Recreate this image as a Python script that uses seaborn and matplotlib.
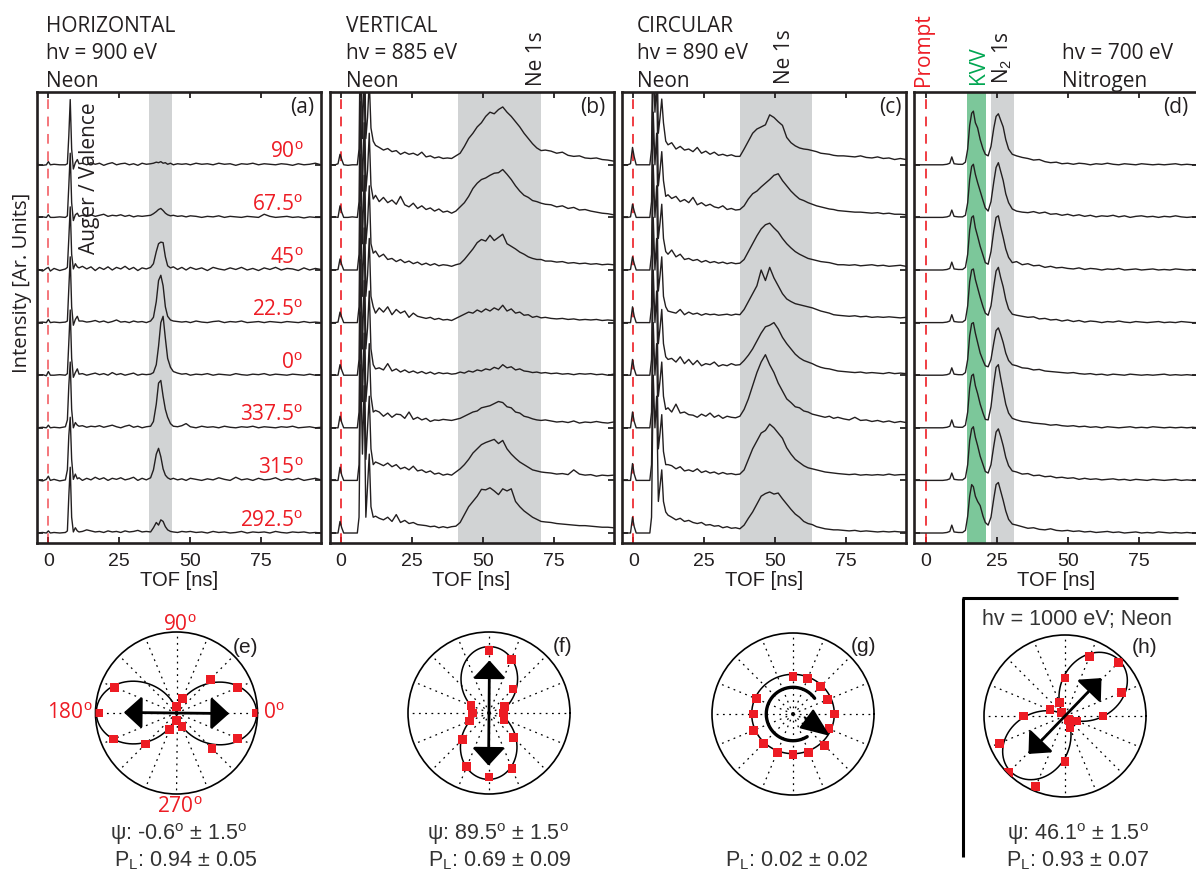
import numpy as np
import matplotlib
matplotlib.use("Agg")
import matplotlib.pyplot as plt
import seaborn as sns
from matplotlib.lines import Line2D

# ====================== DATA ======================
# ---- panel (a) HORIZONTAL: TOF grid (ns) and 8 traces (top -> bottom) ----
tof_a = [-4, -2, -0.7, 0, 0.7, 2, 4, 6,
         6.7, 7.2, 7.7, 8.2, 8.8, 9.5, 10.2, 10.8,
         12, 13.5, 15, 16.5, 18, 19.5, 21, 22.5, 24, 25.5, 27, 28.5, 30, 31.5, 33, 34.5,
         36, 37, 38, 38.8, 39.6, 40.4, 41.2, 42, 43, 44, 45.5, 47,
         48.5, 50, 52, 54, 56, 58, 60, 62, 64, 66, 68, 70, 72, 74, 76, 78, 80, 82, 84, 86, 88, 90, 92, 94, 96]
angles_a = ["90", "67.5", "45", "22.5", "0", "337.5", "315", "292.5"]
a_090 = [0.01, -0.01, 0.00, 0.06, 0.00, 0.01, 0.00, 0.00,
         0.02, 0.55, 1.24, 0.30, -0.08, 0.04, 0.10, 0.02,
         0.03, 0.00, 0.04, 0.01, 0.03, -0.01, 0.02, 0.04, 0.00, 0.02, 0.03, 0.00, 0.02, -0.01, 0.03, 0.01,
         0.02, 0.03, 0.05, 0.04, 0.06, 0.03, 0.04, 0.01, 0.03, 0.00, 0.02, 0.01,
         0.02, 0.00, 0.03, 0.01, 0.02, 0.00, 0.03, 0.01, 0.02, -0.01, 0.02, 0.01, 0.03, 0.00, 0.02, 0.01, 0.00, 0.02, 0.01, -0.01, 0.02, 0.00, 0.01, 0.03, 0.00]
a_067 = [0.00, 0.01, 0.00, 0.05, 0.00, 0.00, 0.01, 0.00,
         0.03, 0.60, 1.22, 0.28, -0.06, 0.05, 0.08, 0.02,
         0.04, 0.02, 0.05, 0.02, 0.04, 0.06, 0.02, 0.04, 0.03, 0.05, 0.02, 0.04, 0.01, 0.03, 0.02, 0.03,
         0.04, 0.07, 0.11, 0.15, 0.17, 0.13, 0.08, 0.05, 0.03, 0.04, 0.02, 0.03,
         0.01, 0.03, 0.02, 0.00, 0.02, 0.01, 0.03, 0.00, 0.02, 0.01, 0.00, 0.02, 0.01, 0.00, 0.06, 0.02, 0.00, 0.01, 0.02, 0.00, 0.01, -0.01, 0.01, 0.00, 0.00]
a_045 = [0.02, -0.02, 0.03, 0.05, -0.02, 0.03, -0.01, 0.02,
         0.05, 0.60, 1.20, 0.30, 0.02, 0.12, 0.06, 0.04,
         0.07, 0.02, 0.06, -0.01, 0.05, 0.01, 0.06, 0.00, 0.05, 0.02, 0.07, 0.01, 0.05, -0.01, 0.04, 0.02,
         0.05, 0.12, 0.35, 0.50, 0.53, 0.52, 0.25, 0.08, 0.04, 0.06, 0.01, 0.05,
         0.00, 0.05, 0.01, 0.04, -0.01, 0.05, 0.02, 0.00, 0.04, 0.01, 0.05, 0.00, 0.03, -0.01, 0.04, 0.01, 0.05, 0.00, 0.03, 0.02, -0.01, 0.04, 0.00, 0.03, 0.01]
a_022 = [0.00, 0.01, 0.00, 0.06, 0.00, 0.01, 0.00, 0.01,
         0.03, 0.65, 1.25, 0.30, -0.05, 0.06, 0.12, 0.03,
         0.03, 0.01, 0.02, 0.04, 0.01, 0.03, 0.00, 0.02, 0.05, 0.01, 0.02, 0.00, 0.03, 0.01, 0.02, 0.00,
         0.03, 0.10, 0.40, 0.80, 0.90, 0.70, 0.30, 0.12, 0.05, 0.03, 0.02, 0.01,
         0.02, 0.00, 0.03, 0.01, 0.00, 0.02, 0.03, 0.00, 0.02, 0.01, 0.03, 0.00, 0.01, 0.02, 0.00, 0.02, 0.01, 0.00, 0.02, 0.01, 0.00, 0.02, 0.00, 0.01, 0.00]
a_000 = [0.00, 0.01, -0.01, 0.07, 0.00, 0.00, 0.01, 0.00,
         0.03, 0.62, 1.24, 0.32, -0.04, 0.05, 0.12, 0.02,
         0.03, 0.00, 0.02, 0.04, 0.01, 0.03, 0.00, 0.05, 0.01, 0.03, 0.00, 0.02, 0.04, 0.00, 0.02, 0.01,
         0.02, 0.05, 0.20, 0.55, 1.00, 1.12, 0.70, 0.32, 0.15, 0.07, 0.04, 0.02,
         0.03, 0.00, 0.02, 0.01, 0.03, 0.00, 0.02, 0.01, 0.00, 0.03, 0.01, 0.00, 0.02, 0.01, 0.03, 0.00, 0.02, 0.01, 0.00, 0.02, 0.01, 0.00, 0.02, 0.00, 0.01]
a_337 = [0.00, 0.01, 0.00, 0.05, 0.00, 0.01, 0.00, 0.02,
         0.15, 0.80, 1.25, 0.35, 0.00, 0.10, 0.05, 0.03,
         0.04, 0.01, 0.03, 0.02, 0.04, 0.01, 0.03, 0.05, 0.02, 0.00, 0.03, 0.05, 0.01, 0.03, 0.00, 0.02,
         0.03, 0.12, 0.45, 0.85, 0.90, 0.60, 0.35, 0.20, 0.08, 0.03, 0.02, 0.04,
         0.08, 0.02, 0.00, 0.03, 0.01, 0.02, 0.00, 0.03, 0.01, 0.00, 0.02, 0.01, 0.03, 0.00, 0.02, 0.01, 0.00, 0.02, 0.01, 0.03, 0.00, 0.01, 0.02, 0.00, 0.01]
a_315 = [0.01, -0.01, 0.02, 0.08, 0.00, 0.02, -0.01, 0.01,
         0.20, 0.85, 1.20, 0.40, 0.02, 0.12, 0.03, 0.05,
         0.00, 0.04, 0.01, 0.06, 0.02, 0.05, 0.00, 0.04, 0.02, 0.05, 0.01, 0.03, 0.06, 0.00, 0.04, 0.01,
         0.05, 0.20, 0.50, 0.61, 0.45, 0.22, 0.10, 0.05, 0.02, 0.04, 0.01, 0.03,
         0.00, 0.04, 0.02, 0.00, 0.03, 0.01, 0.05, 0.02, 0.00, 0.06, 0.01, 0.03, 0.00, 0.04, 0.01, 0.02, 0.05, 0.00, 0.03, 0.01, 0.04, 0.00, 0.02, 0.04, 0.01]
a_292 = [0.00, 0.01, 0.00, 0.04, 0.00, 0.01, 0.00, 0.01,
         0.04, 0.70, 1.25, 0.30, 0.02, 0.10, 0.04, 0.02,
         0.03, 0.06, 0.04, 0.02, 0.03, 0.01, 0.04, 0.02, 0.03, 0.01, 0.04, 0.02, 0.03, 0.05, 0.02, 0.03,
         0.02, 0.10, 0.20, 0.15, 0.25, 0.22, 0.12, 0.06, 0.03, 0.02, 0.01, 0.03,
         0.02, 0.03, 0.01, 0.02, 0.00, 0.03, 0.01, 0.02, 0.00, 0.01, 0.03, 0.00, 0.02, 0.01, 0.02, 0.00, 0.03, 0.01, 0.00, 0.02, 0.01, 0.02, 0.00, 0.01, 0.00]

# ---- panels (b) VERTICAL and (c) CIRCULAR: shared TOF grid ----
tof_bc = [-4, -2, -1, -0.3, 0.3, 1, 2.5, 4, 5.8,
          6.4, 7.0, 7.6, 8.2, 8.8, 9.4, 10.0, 10.6, 11.4, 12.2,
          13.5, 15, 16.5, 18, 19.5, 21, 22.5, 24, 25.5, 27, 28.5, 30, 31.5, 33, 34.5, 36,
          37.5, 39, 40.5, 42, 43.5, 45, 46.5, 48, 49.5, 51, 52.5, 54, 55.5, 57, 58.5, 60, 61.5, 63, 64.5, 66, 67.5, 69, 70.5, 72,
          74, 76, 78, 80, 82, 84, 86, 88, 90, 92, 94, 96]
b1 = [0.00, 0.00, 0.02, 0.20, 0.10, 0.00, -0.01, 0.00, 0.00,
      0.30, 3.20, 1.50, 2.80, 0.50, 0.90, 1.60, 0.70, 0.45, 0.37,
      0.33, 0.28, 0.31, 0.25, 0.27, 0.20, 0.24, 0.20, 0.22, 0.18, 0.24, 0.15, 0.17, 0.13, 0.15, 0.12,
      0.13, 0.12, 0.17, 0.22, 0.35, 0.50, 0.60, 0.72, 0.80, 0.92, 1.00, 0.97, 1.05, 1.10, 1.00, 0.92, 0.82, 0.72, 0.60, 0.50, 0.40, 0.32, 0.27, 0.28,
      0.26, 0.22, 0.24, 0.18, 0.16, 0.17, 0.13, 0.12, 0.13, 0.10, 0.09, 0.07]
b2 = [0.00, 0.01, 0.00, 0.22, 0.10, 0.00, 0.00, 0.01, 0.00,
      0.30, 3.20, 1.50, 2.80, 0.50, 0.90, 1.60, 0.60, 0.35, 0.42,
      0.30, 0.38, 0.28, 0.33, 0.25, 0.40, 0.24, 0.20, 0.27, 0.17, 0.22, 0.15, 0.18, 0.12, 0.16, 0.10,
      0.12, 0.08, 0.12, 0.20, 0.28, 0.40, 0.55, 0.65, 0.72, 0.75, 0.80, 0.84, 0.85, 0.91, 0.82, 0.72, 0.60, 0.50, 0.42, 0.38, 0.32, 0.30, 0.27, 0.25,
      0.24, 0.20, 0.22, 0.17, 0.19, 0.14, 0.15, 0.12, 0.10, 0.08, 0.07, 0.05]
b3 = [0.00, 0.00, 0.01, 0.21, 0.10, 0.00, 0.00, 0.00, 0.00,
      0.30, 3.20, 1.50, 2.80, 0.50, 0.90, 1.60, 0.50, 0.32, 0.36,
      0.25, 0.30, 0.20, 0.22, 0.16, 0.20, 0.14, 0.17, 0.12, 0.15, 0.10, 0.13, 0.09, 0.12, 0.08, 0.10,
      0.09, 0.07, 0.10, 0.12, 0.20, 0.30, 0.40, 0.52, 0.58, 0.55, 0.66, 0.56, 0.62, 0.68, 0.50, 0.45, 0.40, 0.34, 0.30, 0.25, 0.22, 0.20, 0.20, 0.17,
      0.17, 0.15, 0.16, 0.13, 0.14, 0.12, 0.13, 0.11, 0.12, 0.10, 0.11, 0.10]
b4 = [0.00, 0.00, 0.01, 0.20, 0.10, 0.00, 0.00, 0.00, 0.00,
      0.30, 3.20, 1.50, 2.80, 0.50, 0.90, 1.60, 0.50, 0.30, 0.18,
      0.28, 0.20, 0.30, 0.15, 0.25, 0.18, 0.22, 0.10, 0.18, 0.12, 0.10, 0.08, 0.10, 0.06, 0.08, 0.05,
      0.06, 0.04, 0.08, 0.12, 0.16, 0.20, 0.18, 0.24, 0.20, 0.26, 0.22, 0.28, 0.24, 0.33, 0.22, 0.26, 0.18, 0.20, 0.14, 0.15, 0.10, 0.12, 0.09, 0.10,
      0.08, 0.07, 0.08, 0.06, 0.07, 0.05, 0.06, 0.05, 0.06, 0.04, 0.05, 0.04]
b5 = [0.00, 0.00, 0.00, 0.20, 0.10, 0.00, 0.00, 0.00, 0.00,
      0.30, 3.20, 1.50, 2.80, 0.50, 0.90, 1.60, 0.50, 0.20, 0.12,
      0.14, 0.10, 0.22, 0.08, 0.12, 0.06, 0.10, 0.05, 0.08, 0.04, 0.07, 0.03, 0.06, 0.02, 0.05, 0.03,
      0.04, 0.02, 0.03, 0.06, 0.04, 0.08, 0.06, 0.10, 0.08, 0.12, 0.10, 0.15, 0.12, 0.20, 0.14, 0.16, 0.10, 0.12, 0.08, 0.07, 0.05, 0.06, 0.04, 0.05,
      0.03, 0.04, 0.02, 0.03, 0.01, 0.03, 0.02, 0.03, 0.01, 0.02, 0.00, 0.02]
b6 = [0.00, 0.00, 0.00, 0.22, 0.10, 0.00, 0.00, 0.00, 0.00,
      0.30, 3.20, 1.50, 2.80, 0.50, 0.90, 1.60, 0.60, 0.30, 0.33,
      0.30, 0.22, 0.28, 0.20, 0.26, 0.25, 0.18, 0.30, 0.16, 0.20, 0.15, 0.18, 0.12, 0.15, 0.14, 0.16,
      0.15, 0.14, 0.16, 0.18, 0.22, 0.26, 0.30, 0.32, 0.38, 0.40, 0.42, 0.46, 0.50, 0.48, 0.40, 0.38, 0.30, 0.28, 0.22, 0.20, 0.17, 0.15, 0.14, 0.15,
      0.13, 0.11, 0.12, 0.10, 0.13, 0.09, 0.11, 0.10, 0.12, 0.10, 0.09, 0.11]
b7 = [0.00, 0.00, 0.00, 0.25, 0.10, 0.00, 0.00, 0.00, 0.00,
      0.30, 3.20, 1.50, 2.80, 0.40, 1.00, 1.60, 0.60, 0.30, 0.35,
      0.32, 0.28, 0.33, 0.26, 0.30, 0.22, 0.25, 0.20, 0.27, 0.18, 0.20, 0.15, 0.18, 0.12, 0.14, 0.10,
      0.12, 0.10, 0.16, 0.22, 0.30, 0.40, 0.52, 0.60, 0.68, 0.72, 0.75, 0.78, 0.70, 0.76, 0.60, 0.50, 0.42, 0.35, 0.30, 0.25, 0.20, 0.18, 0.16, 0.15,
      0.14, 0.12, 0.13, 0.11, 0.20, 0.12, 0.10, 0.11, 0.08, 0.10, 0.09, 0.10]
b8 = [0.00, 0.00, 0.00, 0.22, 0.10, 0.00, 0.00, 0.00, 0.00,
      0.30, 3.20, 1.50, 2.80, 0.30, 0.90, 1.50, 0.50, 0.30, 0.32,
      0.28, 0.25, 0.30, 0.22, 0.35, 0.20, 0.24, 0.18, 0.20, 0.16, 0.15, 0.14, 0.12, 0.13, 0.10, 0.12,
      0.10, 0.12, 0.13, 0.20, 0.35, 0.50, 0.60, 0.70, 0.83, 0.82, 0.86, 0.80, 0.73, 0.84, 0.80, 0.84, 0.60, 0.50, 0.42, 0.36, 0.30, 0.26, 0.22, 0.21,
      0.20, 0.18, 0.17, 0.16, 0.15, 0.14, 0.14, 0.13, 0.12, 0.11, 0.11, 0.10]

c1 = [0.00, 0.00, 0.02, 0.33, 0.15, 0.00, 0.00, 0.00, 0.00,
      0.30, 3.00, 2.00, 2.60, 0.60, 0.90, 1.25, 0.80, 0.45, 0.38,
      0.42, 0.30, 0.35, 0.28, 0.30, 0.25, 0.33, 0.22, 0.26, 0.20, 0.24, 0.18, 0.20, 0.17, 0.19, 0.16,
      0.16, 0.30, 0.45, 0.60, 0.68, 0.72, 0.76, 0.95, 0.90, 0.82, 0.75, 0.52, 0.42, 0.36, 0.32, 0.30, 0.29, 0.27, 0.25, 0.22, 0.21, 0.20, 0.18, 0.17,
      0.17, 0.16, 0.15, 0.17, 0.14, 0.13, 0.15, 0.12, 0.13, 0.10, 0.12, 0.10]
c2 = [0.00, 0.00, 0.01, 0.25, 0.12, 0.00, 0.00, 0.00, 0.00,
      0.30, 3.00, 2.00, 2.60, 0.60, 0.90, 1.25, 0.70, 0.40, 0.43,
      0.36, 0.40, 0.30, 0.34, 0.28, 0.38, 0.24, 0.28, 0.22, 0.25, 0.20, 0.18, 0.22, 0.15, 0.17, 0.14,
      0.15, 0.22, 0.35, 0.45, 0.50, 0.58, 0.65, 0.72, 0.80, 0.83, 0.70, 0.60, 0.50, 0.42, 0.35, 0.32, 0.28, 0.25, 0.22, 0.20, 0.18, 0.16, 0.15, 0.13,
      0.12, 0.11, 0.10, 0.10, 0.09, 0.08, 0.09, 0.07, 0.08, 0.06, 0.06, 0.05]
c3 = [0.00, 0.00, 0.01, 0.25, 0.12, 0.00, 0.00, 0.00, 0.00,
      0.30, 3.00, 2.00, 2.60, 0.60, 0.90, 1.25, 0.60, 0.35, 0.30,
      0.38, 0.25, 0.30, 0.20, 0.22, 0.18, 0.20, 0.15, 0.18, 0.14, 0.16, 0.13, 0.15, 0.12, 0.14, 0.12,
      0.13, 0.20, 0.35, 0.50, 0.65, 0.78, 0.86, 0.89, 0.80, 0.72, 0.60, 0.50, 0.42, 0.35, 0.30, 0.26, 0.22, 0.20, 0.18, 0.16, 0.15, 0.14, 0.12, 0.10,
      0.10, 0.09, 0.10, 0.08, 0.09, 0.10, 0.08, 0.09, 0.07, 0.08, 0.09, 0.07]
c4 = [0.00, 0.00, 0.00, 0.30, 0.12, 0.00, 0.00, 0.00, 0.00,
      0.30, 3.00, 2.00, 2.60, 0.60, 0.90, 1.25, 0.50, 0.30, 0.22,
      0.20, 0.18, 0.25, 0.15, 0.20, 0.16, 0.18, 0.14, 0.17, 0.15, 0.16, 0.14, 0.15, 0.16, 0.14, 0.16,
      0.15, 0.25, 0.40, 0.55, 0.70, 1.00, 0.80, 1.05, 0.85, 0.70, 0.55, 0.45, 0.40, 0.36, 0.34, 0.32, 0.30, 0.28, 0.25, 0.22, 0.20, 0.18, 0.15, 0.14,
      0.13, 0.12, 0.13, 0.11, 0.12, 0.10, 0.11, 0.10, 0.11, 0.10, 0.09, 0.10]
c5 = [0.00, 0.00, 0.00, 0.30, 0.12, 0.00, 0.00, 0.00, 0.00,
      0.30, 3.00, 2.00, 2.60, 0.60, 0.90, 1.25, 0.60, 0.35, 0.30,
      0.32, 0.25, 0.35, 0.22, 0.30, 0.20, 0.28, 0.18, 0.22, 0.20, 0.25, 0.17, 0.20, 0.18, 0.22, 0.19,
      0.20, 0.28, 0.38, 0.50, 0.65, 0.80, 0.92, 0.95, 1.00, 0.88, 0.72, 0.60, 0.50, 0.40, 0.33, 0.28, 0.25, 0.22, 0.18, 0.15, 0.13, 0.12, 0.10, 0.08,
      0.07, 0.06, 0.05, 0.06, 0.04, 0.05, 0.04, 0.03, 0.05, 0.03, 0.04, 0.03]
c6 = [0.00, 0.00, 0.00, 0.30, 0.12, 0.00, 0.00, 0.00, 0.00,
      0.30, 3.00, 2.00, 2.60, 0.60, 0.90, 1.25, 0.60, 0.35, 0.38,
      0.30, 0.45, 0.28, 0.30, 0.25, 0.24, 0.20, 0.26, 0.22, 0.28, 0.20, 0.24, 0.18, 0.22, 0.20, 0.19,
      0.22, 0.35, 0.55, 0.80, 1.05, 1.25, 1.39, 1.20, 1.05, 0.85, 0.70, 0.55, 0.48, 0.40, 0.38, 0.32, 0.30, 0.26, 0.24, 0.22, 0.20, 0.22, 0.18, 0.20,
      0.17, 0.15, 0.20, 0.14, 0.15, 0.12, 0.14, 0.11, 0.13, 0.10, 0.12, 0.10]
c7 = [0.00, 0.00, 0.00, 0.32, 0.12, 0.00, 0.00, 0.00, 0.00,
      0.30, 3.00, 2.00, 2.60, 0.60, 0.90, 1.25, 0.55, 0.30, 0.30,
      0.28, 0.22, 0.26, 0.18, 0.20, 0.17, 0.22, 0.15, 0.18, 0.14, 0.16, 0.12, 0.15, 0.12, 0.13, 0.11,
      0.12, 0.20, 0.40, 0.60, 0.75, 0.90, 0.95, 1.07, 1.00, 0.90, 0.80, 0.62, 0.50, 0.40, 0.34, 0.28, 0.24, 0.22, 0.20, 0.18, 0.16, 0.15, 0.14, 0.13,
      0.12, 0.11, 0.12, 0.10, 0.11, 0.10, 0.11, 0.10, 0.12, 0.10, 0.11, 0.11]
c8 = [0.00, 0.00, 0.00, 0.30, 0.12, 0.00, 0.00, 0.00, 0.00,
      0.30, 3.00, 2.00, 2.60, 0.60, 0.90, 1.20, 0.60, 0.40, 0.34,
      0.30, 0.25, 0.28, 0.22, 0.24, 0.20, 0.18, 0.20, 0.15, 0.16, 0.13, 0.14, 0.10, 0.12, 0.09, 0.10,
      0.08, 0.15, 0.28, 0.40, 0.55, 0.70, 0.75, 0.78, 0.74, 0.76, 0.65, 0.55, 0.45, 0.36, 0.30, 0.22, 0.18, 0.16, 0.12, 0.10, 0.08, 0.07, 0.06, 0.06,
      0.05, 0.04, 0.05, 0.03, 0.04, 0.03, 0.02, 0.03, 0.02, 0.03, 0.02, 0.02]

# ---- panel (d) Nitrogen ----
tof_d = [-4, -2, 0, 2, 4, 6, 7.5, 8.5, 9.2, 10,
         11.5, 13, 14, 14.8, 15.5, 16.2, 16.8, 17.5, 18.3, 19.2, 20.2, 21.0, 22.0, 23.0, 24.0, 24.8, 25.6, 26.4, 27.3, 28.2, 29.2, 30.5,
         32, 34, 36, 38, 40, 42, 44, 46, 48, 50, 52, 54, 56, 58, 60, 62, 64, 66, 68, 70, 72, 74, 76, 78, 80, 82, 84, 86, 88, 90, 92, 94, 96]
d1 = [0.00, 0.00, 0.00, 0.00, 0.00, 0.00, 0.01, 0.03, 0.15, 0.02,
      0.01, 0.01, 0.05, 0.30, 0.75, 0.98, 1.02, 0.80, 0.70, 0.48, 0.30, 0.20, 0.17, 0.35, 0.70, 0.92, 0.97, 0.85, 0.72, 0.48, 0.30, 0.20,
      0.17, 0.14, 0.12, 0.09, 0.10, 0.06, 0.04, 0.05, 0.02, 0.03, 0.01, 0.03, 0.02, 0.00, 0.02, 0.01, 0.03, 0.01, 0.00, 0.02, 0.01, 0.00, 0.02, 0.01, 0.00, 0.01, 0.00, 0.01, 0.02, 0.00, 0.01, 0.00, 0.00]
d2 = [0.00, 0.00, 0.00, 0.00, 0.00, 0.00, 0.01, 0.03, 0.14, 0.02,
      0.01, 0.01, 0.04, 0.28, 0.72, 0.97, 1.01, 0.82, 0.66, 0.50, 0.32, 0.18, 0.12, 0.30, 0.68, 0.95, 1.04, 0.88, 0.70, 0.45, 0.28, 0.16,
      0.12, 0.10, 0.09, 0.11, 0.08, 0.10, 0.06, 0.07, 0.04, 0.06, 0.03, 0.05, 0.02, 0.04, 0.01, 0.03, 0.02, 0.04, 0.01, 0.03, 0.00, 0.02, 0.03, 0.01, 0.02, 0.00, 0.02, 0.01, 0.03, 0.01, 0.00, 0.01, 0.00]
d3 = [0.00, 0.00, 0.00, 0.00, 0.00, 0.00, 0.01, 0.03, 0.15, 0.02,
      0.01, 0.01, 0.05, 0.30, 0.76, 1.00, 1.03, 0.80, 0.64, 0.45, 0.28, 0.14, 0.11, 0.35, 0.75, 1.00, 1.03, 0.82, 0.62, 0.40, 0.24, 0.14,
      0.16, 0.10, 0.12, 0.08, 0.09, 0.05, 0.07, 0.04, 0.05, 0.03, 0.02, 0.04, 0.01, 0.03, 0.02, 0.00, 0.02, 0.01, 0.03, 0.00, 0.01, 0.02, 0.00, 0.01, 0.02, 0.00, 0.01, 0.00, 0.02, 0.01, 0.00, 0.01, 0.00]
d4 = [0.00, 0.00, 0.00, 0.00, 0.00, 0.00, 0.01, 0.03, 0.15, 0.02,
      0.01, 0.01, 0.05, 0.32, 0.78, 1.00, 1.02, 0.82, 0.66, 0.48, 0.30, 0.18, 0.14, 0.32, 0.70, 0.98, 1.05, 0.86, 0.68, 0.44, 0.26, 0.16,
      0.14, 0.12, 0.10, 0.11, 0.07, 0.08, 0.05, 0.06, 0.03, 0.05, 0.02, 0.04, 0.01, 0.03, 0.02, 0.00, 0.02, 0.01, 0.03, 0.01, 0.00, 0.02, 0.01, 0.00, 0.01, 0.02, 0.00, 0.01, 0.00, 0.02, 0.01, 0.00, 0.00]
d5 = [0.00, 0.00, 0.00, 0.00, 0.00, 0.00, 0.01, 0.03, 0.14, 0.02,
      0.01, 0.01, 0.05, 0.30, 0.75, 0.98, 1.00, 0.80, 0.62, 0.42, 0.28, 0.18, 0.16, 0.30, 0.62, 0.85, 0.90, 0.78, 0.62, 0.42, 0.28, 0.20,
      0.18, 0.14, 0.13, 0.10, 0.11, 0.08, 0.07, 0.06, 0.05, 0.04, 0.05, 0.03, 0.02, 0.03, 0.01, 0.02, 0.00, 0.02, 0.01, 0.00, 0.02, 0.01, 0.00, 0.01, 0.00, 0.01, 0.02, 0.00, 0.01, 0.00, 0.01, 0.00, 0.00]
d6 = [0.00, 0.00, 0.00, 0.00, 0.00, 0.00, 0.01, 0.03, 0.15, 0.02,
      0.01, 0.01, 0.05, 0.30, 0.76, 0.99, 1.02, 0.80, 0.65, 0.45, 0.28, 0.16, 0.15, 0.40, 0.85, 1.15, 1.20, 0.95, 0.70, 0.45, 0.28, 0.18,
      0.15, 0.12, 0.11, 0.09, 0.08, 0.07, 0.05, 0.06, 0.04, 0.03, 0.04, 0.02, 0.03, 0.01, 0.02, 0.00, 0.02, 0.01, 0.00, 0.01, 0.02, 0.00, 0.01, 0.00, 0.02, 0.01, 0.00, 0.01, 0.00, 0.01, 0.00, 0.01, 0.00]
d7 = [0.00, 0.00, 0.00, 0.00, 0.00, 0.00, 0.01, 0.03, 0.14, 0.02,
      0.01, 0.01, 0.05, 0.30, 0.76, 0.98, 1.02, 0.82, 0.66, 0.46, 0.30, 0.17, 0.14, 0.30, 0.66, 0.92, 0.98, 0.84, 0.66, 0.44, 0.28, 0.18,
      0.16, 0.12, 0.13, 0.09, 0.10, 0.07, 0.08, 0.05, 0.06, 0.04, 0.05, 0.02, 0.04, 0.02, 0.03, 0.01, 0.02, 0.03, 0.01, 0.02, 0.00, 0.02, 0.01, 0.00, 0.02, 0.01, 0.00, 0.01, 0.02, 0.00, 0.01, 0.00, 0.00]
d8 = [0.00, 0.00, 0.00, 0.00, 0.00, 0.00, 0.01, 0.03, 0.15, 0.02,
      0.01, 0.01, 0.05, 0.32, 0.70, 0.92, 0.88, 0.70, 0.60, 0.52, 0.32, 0.20, 0.15, 0.30, 0.66, 0.92, 0.96, 0.80, 0.62, 0.42, 0.26, 0.17,
      0.15, 0.12, 0.09, 0.10, 0.07, 0.06, 0.08, 0.05, 0.04, 0.05, 0.03, 0.04, 0.02, 0.03, 0.01, 0.02, 0.03, 0.01, 0.02, 0.00, 0.01, 0.02, 0.00, 0.01, 0.00, 0.02, 0.01, 0.00, 0.01, 0.00, 0.01, 0.00, 0.00]

# ---- polar panels (e)-(h): detector angles (deg) and normalised yields ----
det_angles = [0, 22.5, 45, 67.5, 90, 112.5, 135, 157.5, 180, 202.5, 225, 247.5, 270, 292.5, 315, 337.5]
nan = float("nan")
yield_e = [0.99, 0.82, 0.59, 0.19, 0.08, nan, nan, 0.83, 0.96, 0.84, 0.54, 0.22, 0.09, 0.18, 0.62, 0.82]
yield_f = [0.18, 0.21, 0.42, 0.72, 0.77, nan, nan, 0.24, 0.20, 0.26, 0.46, 0.72, 0.79, 0.74, 0.43, 0.20]
yield_g = [0.51, 0.46, 0.48, 0.47, 0.46, nan, nan, 0.49, 0.49, 0.53, 0.51, 0.51, 0.50, 0.51, 0.55, 0.48]
yield_h = [0.47, 0.76, 0.93, 0.79, 0.47, 0.18, 0.06, 0.20, 0.51, 0.88, 0.99, 0.94, 0.56, 0.16, 0.06, 0.16]
fit_psi = [-0.6, 89.5, 0.0, 46.1]      # deg
fit_PL = [0.94, 0.69, 0.02, 0.93]
fit_amp = [0.99, 0.82, 0.51, 0.96]
psi_text = ["ψ: -0.6$^{\\rm o}$ ± 1.5$^{\\rm o}$", "ψ: 89.5$^{\\rm o}$ ± 1.5$^{\\rm o}$", None,
            "ψ: 46.1$^{\\rm o}$ ± 1.5$^{\\rm o}$"]
pl_text = ["P$_{\\rm L}$: 0.94 ± 0.05", "P$_{\\rm L}$: 0.69 ± 0.09", "P$_{\\rm L}$: 0.02 ± 0.02",
           "P$_{\\rm L}$: 0.93 ± 0.07"]

# ====================== STYLE ======================
sns.set_theme(style="white")
plt.rcParams["font.family"] = ["Open Sans", "DejaVu Sans"]
plt.rcParams["mathtext.fontset"] = "custom"
plt.rcParams["mathtext.rm"] = "Liberation Sans"
plt.rcParams["mathtext.it"] = "Liberation Sans:italic"
plt.rcParams["lines.scale_dashes"] = False
plt.rcParams["axes.unicode_minus"] = False

W, H = 1196, 872
INK = "#231f20"
RED = "#ed1c24"
GREEN_TXT = "#00a651"
GREEN_BAND = "#7cc79a"
GREY_BAND = "#d1d3d4"

fig = plt.figure(figsize=(W / 100, H / 100), dpi=100)
fig.patch.set_facecolor("white")


def rect(left, top, w, h):
    return [left / W, 1 - (top + h) / H, w / W, h / H]


def ftext(x, y, s, **kw):
    fig.text(x / W, 1 - y / H, s, **kw)


# ====================== TOP PANELS ======================
panels = [
    dict(left=37.0, tof=tof_a, traces=[a_090, a_067, a_045, a_022, a_000, a_337, a_315, a_292],
         bands=[(35.6, 43.4, GREY_BAND)], tag="(a)", prompt_alpha=0.7),
    dict(left=329.5, tof=tof_bc, traces=[b1, b2, b3, b4, b5, b6, b7, b8],
         bands=[(41.4, 70.6, GREY_BAND)], tag="(b)", prompt_alpha=1.0),
    dict(left=622.0, tof=tof_bc, traces=[c1, c2, c3, c4, c5, c6, c7, c8],
         bands=[(37.5, 62.8, GREY_BAND)], tag="(c)", prompt_alpha=1.0),
    dict(left=914.3, tof=tof_d, traces=[d1, d2, d3, d4, d5, d6, d7, d8],
         bands=[(14.4, 21.2, GREEN_BAND), (23.0, 31.1, GREY_BAND)], tag="(d)", prompt_alpha=1.0),
]
tag_x = [302, 593, 890, 1176]

top_axes = []
for k, p in enumerate(panels):
    ax = fig.add_axes(rect(p["left"], 92, 284, 451))
    top_axes.append(ax)
    ax.set_facecolor("white")
    for (x0, x1, col) in p["bands"]:
        ax.axvspan(x0, x1, color=col, lw=0, zorder=0.5)
    ax.axvline(0, color=RED, lw=1.2, dashes=(7, 5.5), alpha=p["prompt_alpha"], zorder=1)
    tof = np.asarray(p["tof"], dtype=float)
    for i, vals in enumerate(p["traces"]):
        off = 7 - i
        sns.lineplot(x=tof, y=np.asarray(vals, dtype=float) + off, ax=ax, color=INK,
                     linewidth=1.0, estimator=None, sort=False, legend=False, zorder=2)
    ax.set_xlim(-4, 96)
    ax.set_ylim(-0.19, 8.384)
    ax.set_xticks([0, 25, 50, 75])
    ax.set_xticklabels(["0", "25", "50", "75"])
    ax.set_yticks(range(8))
    ax.set_yticklabels([])
    ax.tick_params(axis="x", direction="in", top=True, bottom=True, length=4, width=1.3,
                   labelsize=14, pad=7, colors=INK)
    ax.tick_params(axis="y", direction="in", left=True, right=True, length=4, width=1.3)
    for lab in ax.get_xticklabels():
        lab.set_fontfamily("Liberation Sans")
    ax.set_xlabel("TOF [ns]", fontsize=14.5, family="Liberation Sans", color=INK, labelpad=1)
    ax.set_ylabel("")
    for sp in ax.spines.values():
        sp.set_linewidth(1.9)
        sp.set_color(INK)
    if k == 3:
        ax.spines["right"].set_visible(False)
    ftext(tag_x[k], 108, p["tag"], fontsize=15, color=INK, ha="center", va="center")

# angle labels in panel (a)
for i, lab in enumerate(angles_a):
    top_axes[0].text(89.7, 7 - i + 0.14, lab + "$^{\\rm o}$", color=RED, fontsize=15,
                     ha="right", va="baseline", zorder=3)

# headers
for x, lines in [(46, ["HORIZONTAL", "hv = 900 eV", "Neon"]),
                 (346, ["VERTICAL", "hv = 885 eV", "Neon"]),
                 (637, ["CIRCULAR", "hv = 890 eV", "Neon"]),
                 (1062, [None, "hv = 700 eV", "Nitrogen"])]:
    for y, s in zip([32, 59, 87], lines):
        if s:
            ftext(x, y, s, fontsize=15, color=INK, ha="left", va="baseline")

ftext(537, 86, "Ne 1s", fontsize=15, color=INK, rotation=90, ha="center", va="bottom")
ftext(785, 84, "Ne 1s", fontsize=15, color=INK, rotation=90, ha="center", va="bottom")
ftext(924, 86, "Prompt", fontsize=15, color=RED, rotation=90, ha="center", va="bottom")
ftext(978, 84, "KVV", fontsize=15, color=GREEN_TXT, rotation=90, ha="center", va="bottom")
ftext(1002, 84, "N$_2$ 1s", fontsize=15, color=INK, rotation=90, ha="center", va="bottom")
ftext(90, 178, "Auger / Valence", fontsize=15, color=INK, rotation=90, ha="center", va="center")
ftext(22, 283, "Intensity [Ar. Units]", fontsize=14.5, color=INK, rotation=90, ha="center", va="center")

# ====================== POLAR PANELS ======================
centers = [(176.5, 713), (489, 713), (793, 714), (1065, 716)]
R = 81
yields = [yield_e, yield_f, yield_g, yield_h]
ptags = ["(e)", "(f)", "(g)", "(h)"]
ptag_pos = [(245, 647), (563, 646), (864, 646), (1145, 647)]
txt_cx = [(179, 186), (498, 500), (None, 797), (1078, 1078)]
theta_fit = np.deg2rad(np.arange(0, 361, 1.0))

for j in range(4):
    cx, cy = centers[j]
    ax = fig.add_axes(rect(cx - R, cy - R, 2 * R, 2 * R), projection="polar")
    ax.set_facecolor("none")
    psi = np.deg2rad(fit_psi[j])
    P = fit_PL[j]
    r_fit = fit_amp[j] * (1 + P * np.cos(2 * (theta_fit - psi))) / (1 + P)
    sns.lineplot(x=theta_fit, y=r_fit, ax=ax, sort=False, estimator=None, color="black",
                 linewidth=1.1, legend=False, zorder=3)
    sns.scatterplot(x=np.deg2rad(det_angles), y=yields[j], ax=ax, marker="s", s=40,
                    color=RED, edgecolor="none", linewidth=0, legend=False, zorder=4)
    ax.set_ylim(0, 1)
    ax.set_yticks([])
    ax.set_thetagrids(det_angles, labels=[""] * len(det_angles))
    ax.xaxis.grid(True, color="black", linestyle=(0, (1.3, 3.2)), linewidth=0.9)
    ax.yaxis.grid(False)
    ax.spines["polar"].set_linewidth(1.2)
    ax.spines["polar"].set_color("black")
    ax.set_xlabel("")
    ax.set_ylabel("")
    if j in (0, 1, 3):
        ax.annotate("", xy=(psi, 0.65), xytext=(psi + np.pi, 0.65), annotation_clip=False,
                    arrowprops=dict(arrowstyle="<|-|>,head_length=1.1,head_width=1.0",
                                    lw=2.0, color="black", shrinkA=0, shrinkB=0,
                                    mutation_scale=10), zorder=5)
    else:
        arc_t = np.deg2rad(np.arange(36, 303, 2.0))
        ax.plot(arc_t, np.full_like(arc_t, 0.33), color="black", lw=2.4, zorder=5)
        ax.annotate("", xy=(np.deg2rad(-30.7), 0.53), xytext=(np.deg2rad(-16), 0.15),
                    annotation_clip=False,
                    arrowprops=dict(arrowstyle="-|>,head_length=1.85,head_width=0.75",
                                    lw=1.5, color="black", shrinkA=0, shrinkB=0,
                                    mutation_scale=10), zorder=5)
    ftext(ptag_pos[j][0], ptag_pos[j][1], ptags[j], fontsize=15, color=INK,
          family="Liberation Sans", ha="center", va="center")
    if psi_text[j]:
        ftext(txt_cx[j][0], 840, psi_text[j], fontsize=15.5, color="#333333",
              family="Liberation Sans", ha="center", va="baseline")
    ftext(txt_cx[j][1], 866, pl_text[j], fontsize=15.5, color="#333333",
          family="Liberation Sans", ha="center", va="baseline")

# angle labels around (e)
ftext(180, 624, "90$^{\\rm o}$", fontsize=15, color=RED, ha="center", va="center")
ftext(180, 806, "270$^{\\rm o}$", fontsize=15, color=RED, ha="center", va="center")
ftext(93, 713, "180$^{\\rm o}$", fontsize=15, color=RED, ha="right", va="center")
ftext(263, 713, "0$^{\\rm o}$", fontsize=15, color=RED, ha="left", va="center")

# frame and title for (h)
fig.add_artist(Line2D([963 / W, 963 / W], [1 - 598 / H, 1 - 857 / H], transform=fig.transFigure,
                      color="black", lw=2.2, solid_capstyle="butt"))
fig.add_artist(Line2D([962.2 / W, 1178 / W], [1 - 598 / H, 1 - 598 / H], transform=fig.transFigure,
                      color="black", lw=2.2, solid_capstyle="butt"))
ftext(1077, 619, "hv = 1000 eV; Neon", fontsize=15.5, color="#333333", family="Liberation Sans",
      ha="center", va="center")

fig.savefig("out.png", dpi=100, facecolor="white")
